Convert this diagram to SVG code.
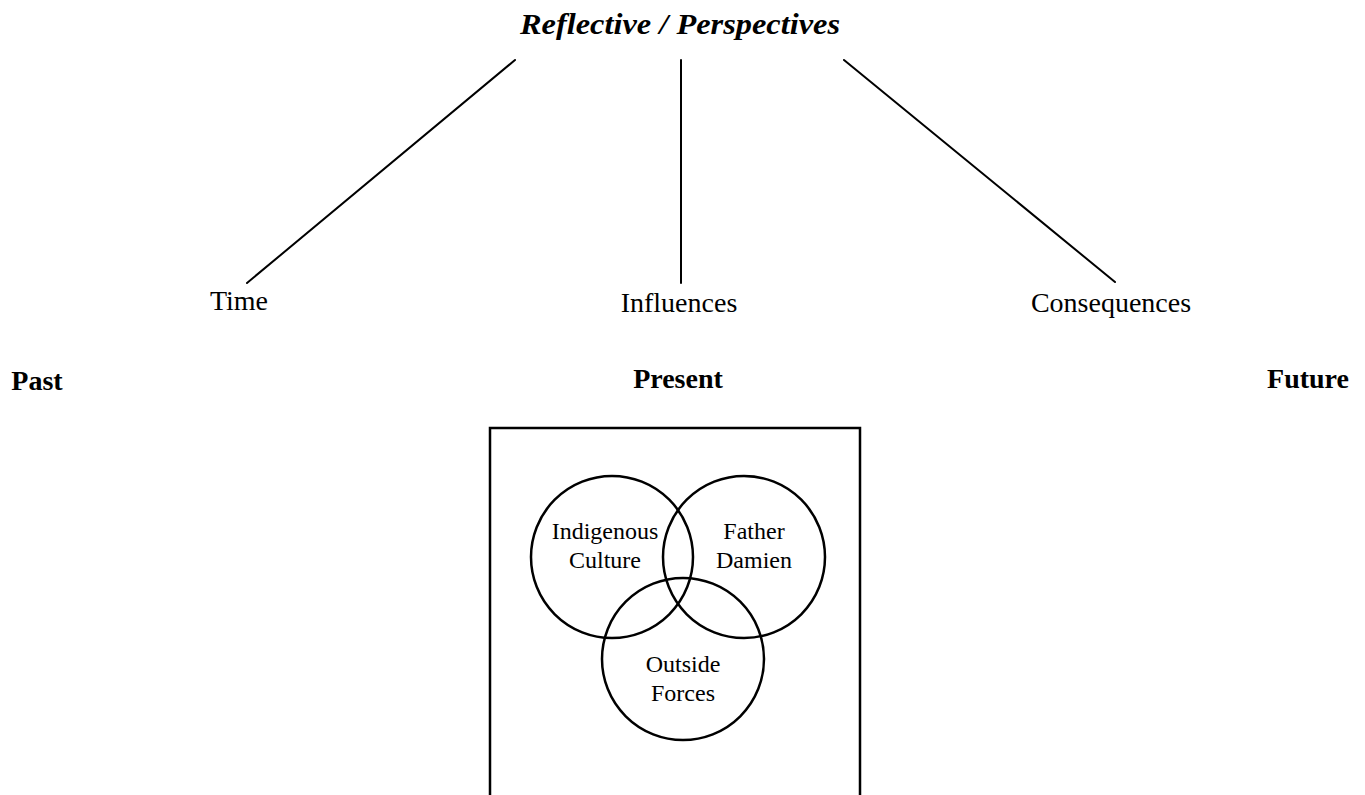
<svg xmlns="http://www.w3.org/2000/svg" width="1365" height="795" viewBox="0 0 1365 795">
<style>
  .t { font-family: "Liberation Serif", "Times New Roman", serif; fill: #000; text-anchor: middle; }
  .lbl { font-size: 28px; }
  .b { font-size: 28px; font-weight: bold; }
  .title { font-size: 30px; font-weight: bold; font-style: italic; }
  .vl { font-size: 24px; }
  .ln { stroke: #000; stroke-width: 2; fill: none; stroke-linecap: round; }
  .c { stroke: #000; stroke-width: 2.5; fill: none; }
</style>
<rect width="1365" height="795" fill="#fff"/>
<g id="title"><text class="t title" x="680" y="34" textLength="320" lengthAdjust="spacingAndGlyphs">Reflective / Perspectives</text></g>
<g id="connectors">
  <line class="ln" x1="515" y1="60" x2="247" y2="283"/>
  <line class="ln" x1="681" y1="60" x2="681" y2="283"/>
  <line class="ln" x1="844" y1="60" x2="1115" y2="282"/>
</g>
<g id="time"><text class="t lbl" x="239" y="310">Time</text></g>
<g id="influences"><text class="t lbl" x="679" y="312">Influences</text></g>
<g id="consequences"><text class="t lbl" x="1111" y="312">Consequences</text></g>
<g id="past"><text class="t b" x="37" y="390">Past</text></g>
<g id="present"><text class="t b" x="678" y="388">Present</text></g>
<g id="future"><text class="t b" x="1308" y="388">Future</text></g>
<g id="box"><path class="c" d="M490 795 V428 H860 V795"/></g>
<g id="indigenous">
  <circle class="c" cx="612" cy="557" r="81"/>
  <text class="t vl" x="605" y="539">Indigenous</text>
  <text class="t vl" x="605" y="568">Culture</text>
</g>
<g id="damien">
  <circle class="c" cx="744" cy="557" r="81"/>
  <text class="t vl" x="754" y="539">Father</text>
  <text class="t vl" x="754" y="568">Damien</text>
</g>
<g id="outside">
  <circle class="c" cx="683" cy="659" r="81"/>
  <text class="t vl" x="683" y="672">Outside</text>
  <text class="t vl" x="683" y="701">Forces</text>
</g>
</svg>
